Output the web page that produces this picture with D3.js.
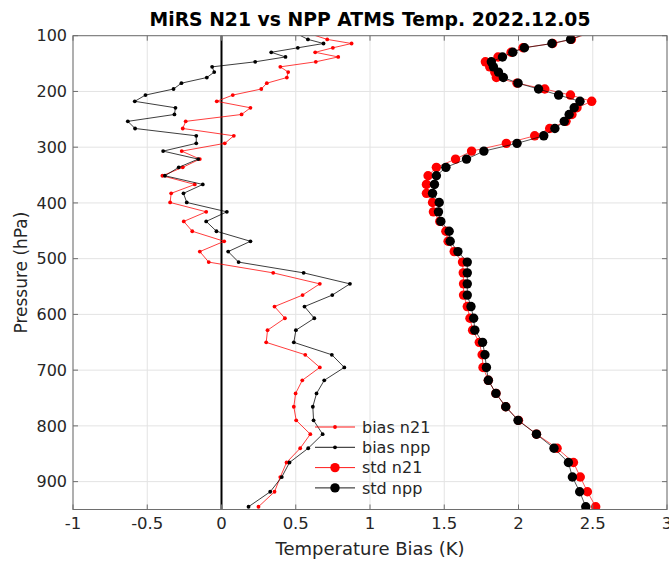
<!DOCTYPE html>
<html>
<head>
<meta charset="utf-8">
<script src="https://cdn.jsdelivr.net/npm/d3@7"></script>
<style>
  html, body { margin: 0; padding: 0; background: #fff; }
  svg { display: block; font-family: "DejaVu Sans", sans-serif; }
</style>
</head>
<body>
<div id="chart"></div>
<script>
// Pressure levels (hPa), layer mid-points
const pressure = [99.57, 106.63, 114.01, 121.71, 129.75, 138.12, 146.83, 155.88, 165.29, 175.05,
  185.17, 195.65, 206.51, 217.73, 229.34, 241.32, 253.69, 266.44, 279.59, 293.13,
  307.07, 321.41, 336.15, 351.29, 366.85, 382.81, 399.18, 415.97, 433.18, 450.80,
  468.84, 487.30, 506.18, 525.48, 545.20, 565.35, 585.92, 606.91, 628.33, 650.17,
  672.43, 695.12, 718.23, 741.76, 765.71, 790.08, 814.87, 840.08, 865.70, 891.74,
  918.20, 945.06];

// Temperature bias (K)
const biasN21 = [0.63, 0.712, 0.876, 0.75, 0.631, 0.786, 0.635, 0.396, 0.449, 0.440,
  0.305, 0.268, 0.076, -0.032, 0.195, 0.135, -0.241, -0.261, 0.083, 0.022,
  -0.268, -0.146, -0.261, -0.398, -0.180, -0.339, -0.346, -0.103, -0.254, -0.197,
  0.018, -0.146, -0.086, 0.348, 0.662, 0.546, 0.357, 0.427, 0.310, 0.301,
  0.564, 0.662, 0.544, 0.499, 0.487, 0.503, 0.598, 0.530, 0.438, 0.396,
  0.357, 0.249];

const biasNpp = [0.53, 0.582, 0.687, 0.514, 0.335, 0.431, 0.227, -0.063, -0.049, -0.099,
  -0.270, -0.323, -0.512, -0.584, -0.310, -0.317, -0.631, -0.582, -0.170, -0.170,
  -0.393, -0.157, -0.288, -0.381, -0.126, -0.256, -0.234, 0.036, -0.103, -0.034,
  0.195, 0.045, 0.115, 0.553, 0.865, 0.746, 0.559, 0.625, 0.501, 0.487,
  0.743, 0.827, 0.692, 0.640, 0.615, 0.620, 0.681, 0.584, 0.458, 0.406,
  0.328, 0.182];

// Temperature standard deviation (K)
const stdN21 = [2.43, 2.356, 2.23, 2.03, 1.95, 1.862, 1.777, 1.806, 1.84, 1.851,
  1.99, 2.177, 2.35, 2.493, 2.394, 2.36, 2.32, 2.21, 2.109, 1.918,
  1.684, 1.576, 1.447, 1.391, 1.38, 1.38, 1.421, 1.427, 1.470, 1.511,
  1.526, 1.567, 1.623, 1.628, 1.63, 1.63, 1.655, 1.673, 1.691, 1.736,
  1.755, 1.761, 1.797, 1.848, 1.914, 2.0, 2.121, 2.260, 2.370, 2.416,
  2.464, 2.520];

const stdNpp = [2.42, 2.351, 2.225, 2.040, 1.962, 1.892, 1.817, 1.831, 1.865, 1.898,
  1.997, 2.135, 2.27, 2.414, 2.375, 2.341, 2.308, 2.245, 2.170, 1.99,
  1.767, 1.650, 1.511, 1.447, 1.434, 1.421, 1.466, 1.461, 1.477, 1.533,
  1.540, 1.592, 1.655, 1.655, 1.655, 1.655, 1.680, 1.698, 1.706, 1.758,
  1.774, 1.784, 1.797, 1.848, 1.914, 1.997, 2.121, 2.239, 2.336, 2.363,
  2.412, 2.453];

const xTicks = [-1, -0.5, 0, 0.5, 1, 1.5, 2, 2.5, 3];
const yTicks = [100, 200, 300, 400, 500, 600, 700, 800, 900];
const seriesNames = ["bias n21", "bias npp", "std n21", "std npp"];

const W = 669, H = 561;
const m = { left: 73, right: 2, top: 35.7, bottom: 51.5 };
const iw = W - m.left - m.right, ih = H - m.top - m.bottom;

const x = d3.scaleLinear().domain([-1, 3]).range([0, iw]);
const y = d3.scaleLinear().domain([100, 950]).range([0, ih]);

const svg = d3.select("#chart").append("svg").attr("width", W).attr("height", H);
const g = svg.append("g").attr("transform", `translate(${m.left},${m.top})`);

svg.append("defs").append("clipPath").attr("id", "plotclip")
  .append("rect").attr("width", iw).attr("height", ih);

const axisColor = "#6e6e6e", textColor = "#262626";

// grid
g.append("g").selectAll("line").data(xTicks).join("line")
  .attr("x1", d => x(d)).attr("x2", d => x(d)).attr("y1", 0).attr("y2", ih)
  .attr("stroke", "#e3e3e3").attr("stroke-width", 1);
g.append("g").selectAll("line").data(yTicks).join("line")
  .attr("y1", d => y(d)).attr("y2", d => y(d)).attr("x1", 0).attr("x2", iw)
  .attr("stroke", "#e3e3e3").attr("stroke-width", 1);

// zero reference line
g.append("line").attr("x1", x(0)).attr("x2", x(0)).attr("y1", 0).attr("y2", ih)
  .attr("stroke", "#000").attr("stroke-width", 2);

// profiles
const plot = g.append("g").attr("clip-path", "url(#plotclip)");
const rows = pressure.map((p, i) => ({ p, bn: biasN21[i], bp: biasNpp[i], sn: stdN21[i], sp: stdNpp[i] }));
const series = [
  { key: "bn", color: "#ff0000", r: 1.9, width: 0.9 },
  { key: "bp", color: "#000000", r: 1.9, width: 0.9 },
  { key: "sn", color: "#ff0000", r: 4.7, width: 0.9 },
  { key: "sp", color: "#000000", r: 4.7, width: 0.9 }
];
series.forEach(s => {
  const line = d3.line().x(d => x(d[s.key])).y(d => y(d.p));
  plot.append("path").datum(rows).attr("d", line)
    .attr("fill", "none").attr("stroke", s.color).attr("stroke-width", s.width)
    .attr("stroke-opacity", s.r > 3 ? 0.75 : 0.85);
  plot.append("g").selectAll("circle").data(rows.filter(d => d.p >= 100)).join("circle")
    .attr("cx", d => x(d[s.key])).attr("cy", d => y(d.p)).attr("r", s.r)
    .attr("fill", s.color);
});

// axes box with inward ticks
const tl = 5;
const box = g.append("g").attr("stroke", axisColor).attr("stroke-width", 1).attr("fill", "none");
box.append("rect").attr("x", 0).attr("y", 0).attr("width", iw).attr("height", ih);
xTicks.forEach(t => {
  box.append("line").attr("x1", x(t)).attr("x2", x(t)).attr("y1", ih).attr("y2", ih - tl);
  box.append("line").attr("x1", x(t)).attr("x2", x(t)).attr("y1", 0).attr("y2", tl);
});
yTicks.forEach(t => {
  box.append("line").attr("y1", y(t)).attr("y2", y(t)).attr("x1", 0).attr("x2", tl);
  box.append("line").attr("y1", y(t)).attr("y2", y(t)).attr("x1", iw).attr("x2", iw - tl);
});

// tick labels (plain hyphen for negatives)
g.append("g").selectAll("text").data(xTicks).join("text")
  .attr("x", d => x(d)).attr("y", ih + 20)
  .attr("text-anchor", "middle").attr("font-size", 16.5).attr("fill", textColor)
  .text(d => String(d));
g.append("g").selectAll("text").data(yTicks).join("text")
  .attr("x", -6).attr("y", d => y(d)).attr("dy", "0.36em")
  .attr("text-anchor", "end").attr("font-size", 16).attr("fill", textColor)
  .text(d => d);

// axis titles
svg.append("text").attr("x", m.left + iw / 2).attr("y", 555)
  .attr("text-anchor", "middle").attr("font-size", 18).attr("fill", textColor)
  .text("Temperature Bias (K)");
svg.append("text").attr("transform", `translate(27,${m.top + ih / 2}) rotate(-90)`)
  .attr("text-anchor", "middle").attr("font-size", 17).attr("fill", textColor)
  .text("Pressure (hPa)");

// title
svg.append("text").attr("x", m.left + iw / 2).attr("y", 26)
  .attr("text-anchor", "middle").attr("font-size", 18.8).attr("font-weight", "bold")
  .attr("fill", "#000").text("MiRS N21 vs NPP ATMS Temp. 2022.12.05");

// legend
const leg = svg.append("g").attr("transform", "translate(315,427)");
series.forEach((s, i) => {
  const row = leg.append("g").attr("transform", `translate(0,${i * 20.3})`);
  row.append("line").attr("x1", 0).attr("x2", 40).attr("y1", 0).attr("y2", 0)
    .attr("stroke", s.color).attr("stroke-width", s.width);
  row.append("circle").attr("cx", 20).attr("cy", 0).attr("r", s.r).attr("fill", s.color);
  row.append("text").attr("x", 47).attr("y", 0).attr("dy", "0.36em")
    .attr("font-size", 16).attr("fill", textColor).text(seriesNames[i]);
});
</script>
</body>
</html>
